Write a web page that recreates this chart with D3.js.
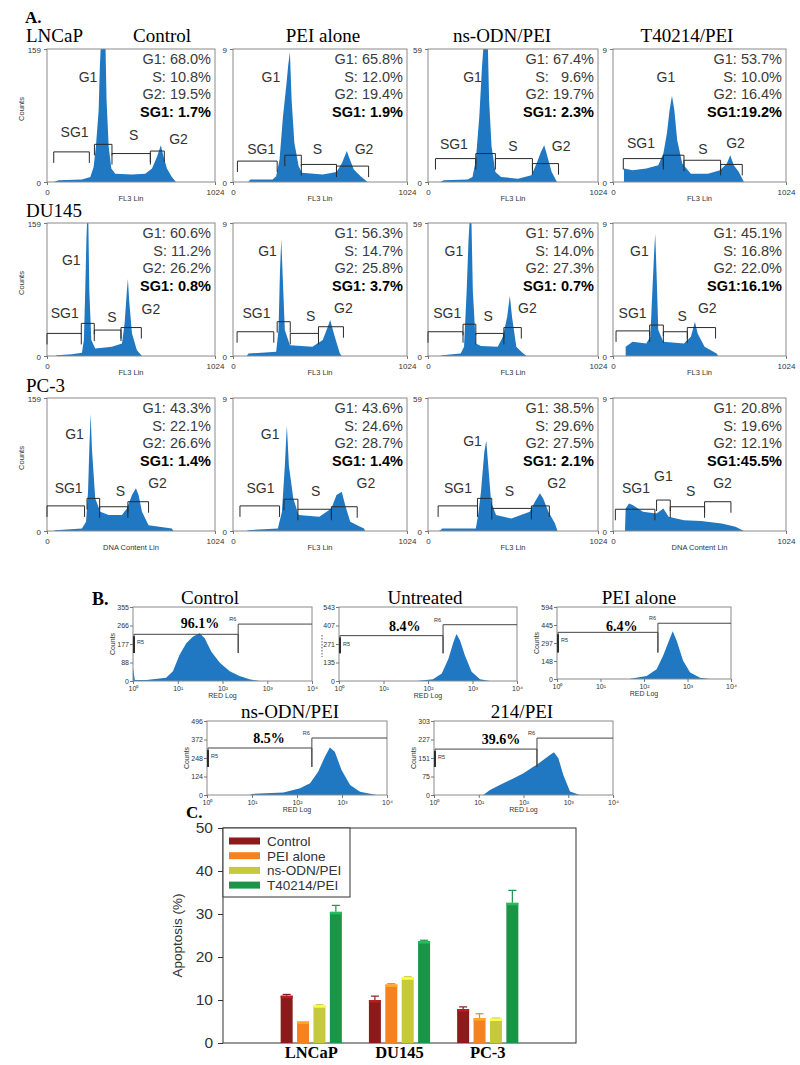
<!DOCTYPE html>
<html><head><meta charset="utf-8">
<script src="https://cdn.jsdelivr.net/npm/d3@7"></script>
<style>body{margin:0;background:#fff}</style>
</head><body>
<svg id="c" width="800" height="1065" xmlns="http://www.w3.org/2000/svg"></svg>
<script>
// ---------------- DATA ----------------
// Panel A
const cellLines = ["LNCaP", "DU145", "PC-3"];
const treatmentsA = ["Control", "PEI alone", "ns-ODN/PEI", "T40214/PEI"];
const yTopLabelsA = ["159", "9", "59", "9"];
const xTickLabelsA = ["0", "1024"];
const xAxisTitlesA = [
  ["FL3 Lin", "FL3 Lin", "FL3 Lin", "FL3 Lin"],
  ["FL3 Lin", "FL3 Lin", "FL3 Lin", "FL3 Lin"],
  ["DNA Content Lin", "FL3 Lin", "FL3 Lin", "DNA Content Lin"]
];
const statsA = [
  [["G1: 68.0%","S: 10.8%","G2: 19.5%","SG1: 1.7%"],["G1: 65.8%","S: 12.0%","G2: 19.4%","SG1: 1.9%"],["G1: 67.4%","S:   9.6%","G2: 19.7%","SG1: 2.3%"],["G1: 53.7%","S: 10.0%","G2: 16.4%","SG1:19.2%"]],
  [["G1: 60.6%","S: 11.2%","G2: 26.2%","SG1: 0.8%"],["G1: 56.3%","S: 14.7%","G2: 25.8%","SG1: 3.7%"],["G1: 57.6%","S: 14.0%","G2: 27.3%","SG1: 0.7%"],["G1: 45.1%","S: 16.8%","G2: 22.0%","SG1:16.1%"]],
  [["G1: 43.3%","S: 22.1%","G2: 26.6%","SG1: 1.4%"],["G1: 43.6%","S: 24.6%","G2: 28.7%","SG1: 1.4%"],["G1: 38.5%","S: 29.6%","G2: 27.5%","SG1: 2.1%"],["G1: 20.8%","S: 19.6%","G2: 12.1%","SG1:45.5%"]]
];
// histogram outlines: [channel, counts]
const histA = [
  [
    [[41,0],[71,2],[213,3],[264,6],[284,18],[298,42],[315,86],[322,137],[327,159],[357,159],[363,98],[376,42],[392,16],[416,10],[518,9],[599,10],[640,16],[670,30],[694,44],[711,30],[731,16],[761,6],[786,0]],
    [[91,0],[101,3],[233,3],[254,7],[274,27],[294,78],[315,118],[325,140],[335,155],[345,98],[361,47],[386,19],[406,11],[528,9],[609,12],[640,22],[670,37],[680,31],[711,15],[751,7],[792,0]],
    [[75,0],[95,2],[238,3],[268,6],[288,26],[309,78],[325,137],[333,159],[361,159],[368,98],[383,42],[406,12],[440,6],[542,4],[623,8],[654,22],[680,36],[700,44],[720,30],[745,12],[777,0]],
    [[65,0],[65,16],[116,14],[197,16],[268,20],[298,34],[319,58],[335,86],[349,103],[363,86],[380,50],[410,22],[461,10],[562,10],[633,14],[674,22],[694,32],[715,20],[745,12],[775,0]]
  ],
  [
    [[51,0],[61,1],[152,2],[213,4],[225,19],[233,78],[240,138],[244,159],[252,159],[258,78],[270,19],[294,9],[396,11],[457,15],[473,39],[487,78],[493,92],[501,66],[518,27],[548,7],[579,0]],
    [[81,0],[91,3],[254,5],[268,31],[276,98],[284,140],[292,98],[305,31],[335,13],[467,11],[528,19],[558,35],[572,43],[599,23],[629,3],[640,0]],
    [[75,0],[85,1],[197,3],[217,11],[233,78],[244,138],[250,159],[262,159],[270,78],[288,15],[319,12],[420,11],[451,23],[477,47],[493,72],[506,47],[532,11],[562,5],[593,0]],
    [[75,0],[75,11],[116,17],[197,15],[221,23],[233,78],[244,126],[250,146],[258,98],[268,31],[298,17],[420,15],[461,23],[485,41],[501,27],[542,11],[613,3],[623,0]]
  ],
  [
    [[41,0],[51,1],[213,3],[238,11],[250,47],[258,98],[266,140],[274,98],[294,39],[325,23],[376,19],[457,19],[487,27],[518,43],[542,51],[558,43],[579,23],[619,7],[761,3],[771,0]],
    [[81,0],[91,1],[264,3],[288,23],[305,78],[317,126],[329,78],[355,39],[386,19],[508,17],[579,27],[609,43],[640,47],[660,31],[690,11],[731,7],[771,3],[778,0]],
    [[65,0],[75,1],[85,3],[288,3],[302,19],[319,47],[339,94],[351,108],[363,78],[380,35],[410,19],[502,15],[613,23],[644,35],[674,45],[694,39],[725,23],[765,9],[780,0]],
    [[71,0],[75,27],[95,33],[116,31],[177,23],[258,21],[298,27],[329,17],[420,13],[521,12],[643,9],[725,5],[775,0]]
  ]
];
// gates: [startChannel, endChannel, levelCounts] for SG1, G1, S, G2
const gatesA = [
  [[[41,258,36],[289,396,45],[396,630,34],[630,715,37]],[[26,260,25],[305,402,32],[402,609,21],[609,798,19]],[[45,288,28],[288,406,34],[406,629,28],[629,786,22]],[[61,298,28],[298,420,32],[420,637,26],[637,765,21]]],
  [[[0,209,27],[209,288,39],[288,451,31],[451,575,34]],[[24,240,29],[260,337,41],[337,503,27],[503,650,35]],[[0,211,29],[211,288,38],[288,457,27],[457,562,34]],[[18,217,30],[217,298,37],[298,440,29],[440,607,34]]],
  [[[0,229,30],[244,321,39],[321,493,29],[493,619,35]],[[41,274,30],[300,382,38],[382,579,26],[579,731,29]],[[61,298,30],[298,384,39],[384,623,27],[623,731,30]],[[14,248,26],[258,339,37],[339,542,29],[542,698,35]]]
];
const phaseNames = ["G1", "SG1", "S", "G2"];
// label anchor [channel, counts] for G1, SG1, S, G2
const phaseLabelPosA = [
  [[[250,119],[168,54],[528,50],[802,46]],[[223,120],[166,33],[497,33],[771,33]],[[268,119],[156,40],[512,37],[802,37]],[[313,119],[166,41],[532,34],[725,41]]],
  [[[148,109],[108,45],[396,41],[633,50]],[[203,119],[138,45],[457,42],[650,51]],[[156,119],[116,45],[363,42],[599,51]],[[156,119],[116,45],[410,42],[558,51]]],
  [[[168,110],[132,45],[447,42],[674,51]],[[219,110],[162,45],[487,42],[782,51]],[[268,102],[181,45],[491,42],[775,51]],[[298,60],[136,45],[460,42],[648,51]]]
];

// Panel B
const titlesB = ["Control", "Untreated", "PEI alone", "ns-ODN/PEI", "214/PEI"];
const percentsB = ["96.1%", "8.4%", "6.4%", "8.5%", "39.6%"];
const yMaxB = [355, 543, 594, 496, 303];
const yTickLabelsB = [["0","88","177","266","355"],["0","135","271","407","543"],["0","148","297","445","594"],["0","124","248","372","496"],["0","75","151","227","303"]];
const xTicksB = [1, 10, 100, 1000, 10000];
// histograms: [RED value, counts]
const histB = [
  [[1,63],[1.1,5],[2,5],[5.5,16],[7.8,47],[11,126],[15.5,181],[22,213],[31,229],[40,205],[56,142],[87,87],[145,47],[240,24],[400,8],[676,0]],
  [[56,0],[129,12],[204,55],[288,164],[372,285],[437,345],[525,297],[676,188],[955,67],[1479,12],[2455,0]],
  [[48,3],[115,25],[195,81],[275,192],[363,304],[457,393],[562,318],[794,151],[1148,53],[1950,11],[3311,0]],
  [[9,0],[10,7],[50,16],[117,45],[195,78],[295,156],[417,257],[537,319],[692,290],[977,167],[1514,67],[2512,22],[5888,0]],
  [[12.6,0],[17.8,20],[29.5,41],[58.9,68],[100,89],[166,116],[195,123],[275,143],[389,164],[479,175],[603,150],[776,82],[1096,14],[1820,0]]
];
// gates: [split value, R5 level, R6 level, tick low]
const gatesB = [[224,224,273,134],[218,333,413,203],[209,385,460,218],[214,315,382,188],[200,188,233,115]];
// percent label anchor [RED value, counts]
const percentPosB = [[31.6,255],[30,369],[31,398],[24,348],[31.6,209]];

// Panel C
const groupsC = ["LNCaP", "DU145", "PC-3"];
const seriesC = ["Control", "PEI alone", "ns-ODN/PEI", "T40214/PEI"];
const valuesC = [[11.0, 10.0, 7.9], [5.0, 13.6, 5.8], [8.8, 15.3, 5.7], [30.5, 23.7, 32.6]];
const errorsC = [[0.3, 0.9, 0.5], [0.0, 0.2, 1.0], [0.1, 0.1, 0.1], [1.5, 0.2, 2.9]];
const yTicksC = [0, 10, 20, 30, 40, 50];

// ---------------- LAYOUT / STYLE ----------------
const serif = "'Liberation Serif','Times New Roman',serif";
const sans = "'Liberation Sans',Arial,Helvetica,sans-serif";
const blue = "#1f78c1";
const colorsC = ["#8b1a1a", "#f58220", "#c6c93c", "#1a9447"];
const svg = d3.select("#c");
svg.append("rect").attr("width", 800).attr("height", 1065).attr("fill", "#fff");

function txt(g, x, y, s, o = {}) {
  const t = g.append("text").attr("x", x).attr("y", y).text(s)
    .attr("font-family", o.ff || sans).attr("font-size", o.fs || 12)
    .attr("fill", o.fill || "#000").attr("text-anchor", o.anchor || "start");
  if (o.fw) t.attr("font-weight", o.fw);
  if (o.pre) t.style("white-space", "pre");
  return t;
}

// ---------------- PANEL A ----------------
const colX = [[47, 215], [233, 407], [428, 598], [613, 786]];
const rowY = [[49, 182], [223, 356], [398, 531]];
const titleXA = [162, 323, 502, 687];
const cellLabelY = [42, 217, 392];
txt(svg, 25, 23, "A.", {ff: serif, fs: 17, fw: "bold"});
treatmentsA.forEach((t, c) => txt(svg, titleXA[c], 42, t, {ff: serif, fs: 19, anchor: "middle"}));

cellLines.forEach((cl, r) => {
  txt(svg, 26, cellLabelY[r], cl, {ff: serif, fs: 19});
  treatmentsA.forEach((tr, c) => {
    const [x0, x1] = colX[c], [y0, y1] = rowY[r];
    const x = d3.scaleLinear().domain([0, 1024]).range([x0, x1]);
    const y = d3.scaleLinear().domain([0, 159]).range([y1, y0]);
    const g = svg.append("g");
    const id = `clipA${r}${c}`;
    svg.append("clipPath").attr("id", id).append("rect")
      .attr("x", x0).attr("y", y0).attr("width", x1 - x0).attr("height", y1 - y0);
    g.append("path").datum(histA[r][c]).attr("clip-path", `url(#${id})`)
      .attr("d", d3.area().x(d => x(d[0])).y0(y(0)).y1(d => y(d[1])))
      .attr("fill", blue);
    g.append("rect").attr("x", x0).attr("y", y0).attr("width", x1 - x0).attr("height", y1 - y0)
      .attr("fill", "none").attr("stroke", "#8a8a8a").attr("stroke-width", 1);
    // axes
    const ya = g.append("g").attr("transform", `translate(${x0},0)`)
      .call(d3.axisLeft(y).tickValues([0, 159]).tickSize(3).tickFormat((d, i) => i ? yTopLabelsA[c] : "0"));
    const xa = g.append("g").attr("transform", `translate(0,${y1})`)
      .call(d3.axisBottom(x).tickValues([0, 1024]).tickSize(3).tickFormat((d, i) => xTickLabelsA[i]));
    [ya, xa].forEach(a => {
      a.select(".domain").remove();
      a.selectAll("line").attr("stroke", "#777");
      a.selectAll("text").attr("font-family", sans).attr("font-size", 8).attr("fill", "#333");
    });
    ya.selectAll("text").attr("dy", "0.45em");
    xa.selectAll("text").attr("dy", "0.9em");
    txt(g, (x0 + x1) / 2, y1 + 19, xAxisTitlesA[r][c], {fs: 7.5, anchor: "middle", fill: "#333"});
    if (c === 0) {
      txt(g, 0, 0, "Counts", {fs: 7.5, anchor: "middle", fill: "#333"})
        .attr("transform", `translate(24,${y0 + 60}) rotate(-90)`);
    }
    // gates
    gatesA[r][c].forEach(([s, e, lv]) => {
      const yl = y(lv);
      g.append("path").attr("d", `M${x(s)},${yl + 11}V${yl}H${x(e)}V${yl + 11}`)
        .attr("fill", "none").attr("stroke", "#2a2a2a").attr("stroke-width", 1);
    });
    // phase labels
    phaseLabelPosA[r][c].forEach(([ch, ct], k) => {
      txt(g, x(ch), y(ct), phaseNames[k], {fs: 14, anchor: "middle", fill: "#333"});
    });
    // stats
    statsA[r][c].forEach((s, k) => {
      txt(g, x1 - 4, y0 + 15 + k * 17.5, s, {fs: 14.5, anchor: "end", fill: k === 3 ? "#000" : "#3a3a3a",
        fw: k === 3 ? "bold" : null, pre: true});
    });
  });
});

// ---------------- PANEL B ----------------
const boxesB = [[133, 312, 607, 681], [339, 517, 607, 681], [557, 731, 607, 679], [207, 387, 721, 795], [434, 613, 721, 795]];
const titleXB = [210, 425, 639, 290, 522];
const showCountsB = [true, false, true, true, true];
txt(svg, 92, 605, "B.", {ff: serif, fs: 18, fw: "bold"});
const supDigits = ["\u2070", "\u00B9", "\u00B2", "\u00B3", "\u2074"];

titlesB.forEach((tt, i) => {
  const [x0, x1, y0, y1] = boxesB[i];
  const x = d3.scaleLog().domain([1, 10000]).range([x0, x1]);
  const y = d3.scaleLinear().domain([0, yMaxB[i]]).range([y1, y0]);
  const g = svg.append("g");
  txt(g, titleXB[i], y0 - 3, tt, {ff: serif, fs: 19, anchor: "middle"});
  const id = `clipB${i}`;
  svg.append("clipPath").attr("id", id).append("rect")
    .attr("x", x0).attr("y", y0).attr("width", x1 - x0).attr("height", y1 - y0);
  g.append("path").datum(histB[i]).attr("clip-path", `url(#${id})`)
    .attr("d", d3.area().x(d => x(d[0])).y0(y(0)).y1(d => y(d[1])))
    .attr("fill", blue);
  g.append("rect").attr("x", x0).attr("y", y0).attr("width", x1 - x0).attr("height", y1 - y0)
    .attr("fill", "none").attr("stroke", "#8a8a8a").attr("stroke-width", 1);
  const yt = yTickLabelsB[i].map((_, k) => k * yMaxB[i] / 4);
  const ya = g.append("g").attr("transform", `translate(${x0},0)`)
    .call(d3.axisLeft(y).tickValues(yt).tickSize(3).tickFormat((d, k) => yTickLabelsB[i][k]));
  const xa = g.append("g").attr("transform", `translate(0,${y1})`)
    .call(d3.axisBottom(x).tickValues(xTicksB).tickSize(3).tickFormat((d, k) => "10" + supDigits[k]));
  [ya, xa].forEach(a => {
    a.select(".domain").remove();
    a.selectAll("line").attr("stroke", "#777");
    a.selectAll("text").attr("font-family", sans).attr("font-size", 7).attr("fill", "#333");
  });
  ya.selectAll("text").attr("x", -4);
  xa.selectAll("text").attr("dy", "0.6em");
  txt(g, (x0 + x1) / 2, y1 + 17, "RED Log", {fs: 7, anchor: "middle", fill: "#333"});
  if (showCountsB[i]) {
    txt(g, 0, 0, "Counts", {fs: 7, anchor: "middle", fill: "#333"})
      .attr("transform", `translate(${x0 - 18},${(y0 + y1) / 2}) rotate(-90)`);
  } else {
    g.append("line").attr("x1", x0 - 17).attr("x2", x0 - 17).attr("y1", y0 + 28).attr("y2", y0 + 50)
      .attr("stroke", "#555").attr("stroke-dasharray", "1.5,1.5");
  }
  // gates
  const [sp, r5, r6, lo] = gatesB[i];
  g.append("path").attr("d", `M${x(1) + 1},${y(lo)}V${y(r5)}H${x(sp)}V${y(lo)}`)
    .attr("fill", "none").attr("stroke", "#444").attr("stroke-width", 1);
  g.append("line").attr("x1", x(1) + 1).attr("x2", x(1) + 1).attr("y1", y(r5) + 2).attr("y2", y(lo))
    .attr("stroke", "#222").attr("stroke-width", 1.8);
  g.append("path").attr("d", `M${x(sp)},${y(lo)}V${y(r6)}H${x1}`)
    .attr("fill", "none").attr("stroke", "#444").attr("stroke-width", 1);
  txt(g, x(1) + 4, y(r5) + 10, "R5", {fs: 5.5, fill: "#333"});
  txt(g, x(sp) - 9, y(r6) - 3, "R6", {fs: 5.5, fill: "#333"});
  txt(g, x(percentPosB[i][0]), y(percentPosB[i][1]), percentsB[i], {ff: serif, fs: 14, fw: "bold", anchor: "middle"});
});

// ---------------- PANEL C ----------------
const cx0 = 223, cx1 = 576, cy0 = 828, cy1 = 1043;
txt(svg, 186, 818, "C.", {ff: serif, fs: 17, fw: "bold"});
const xC = d3.scaleBand().domain(groupsC).range([cx0, cx1]).paddingOuter(0.5).paddingInner(0);
const xSub = d3.scaleBand().domain(seriesC).range([-32.8, 32.8]).paddingInner(0.27).paddingOuter(0.135);
const yC = d3.scaleLinear().domain([0, 50]).range([cy1, cy0]);
const gc = svg.append("g");
gc.append("rect").attr("x", cx0).attr("y", cy0).attr("width", cx1 - cx0).attr("height", cy1 - cy0)
  .attr("fill", "none").attr("stroke", "#333").attr("stroke-width", 1);
const yaC = gc.append("g").attr("transform", `translate(${cx0},0)`)
  .call(d3.axisLeft(yC).tickValues(yTicksC).tickSize(5).tickPadding(5));
yaC.select(".domain").remove();
yaC.selectAll("line").attr("stroke", "#333");
yaC.selectAll("text").attr("font-family", sans).attr("font-size", 15.5).attr("fill", "#333");
txt(gc, 0, 0, "Apoptosis (%)", {fs: 13.5, anchor: "middle", fill: "#333"})
  .attr("transform", `translate(182,${(cy0 + cy1) / 2}) rotate(-90)`);
groupsC.forEach(gn => txt(gc, xC(gn) + xC.bandwidth() / 2, 1058, gn, {ff: serif, fs: 16.5, fw: "bold", anchor: "middle"}));

seriesC.forEach((sn, si) => {
  groupsC.forEach((gn, gi) => {
    const v = valuesC[si][gi], e = errorsC[si][gi];
    const bx = xC(gn) + xC.bandwidth() / 2 + xSub(sn);
    const bw = xSub.bandwidth();
    const col = colorsC[si];
    if (e > 0) {
      gc.append("line").attr("x1", bx + bw / 2).attr("x2", bx + bw / 2).attr("y1", yC(v)).attr("y2", yC(v + e))
        .attr("stroke", col).attr("stroke-width", 1.2);
      gc.append("line").attr("x1", bx + bw / 2 - 4).attr("x2", bx + bw / 2 + 4).attr("y1", yC(v + e)).attr("y2", yC(v + e))
        .attr("stroke", col).attr("stroke-width", 1.2);
    }
    gc.append("rect").attr("x", bx).attr("y", yC(v)).attr("width", bw).attr("height", yC(0) - yC(v)).attr("fill", col);
    gc.append("rect").attr("x", bx).attr("y", yC(v)).attr("width", bw).attr("height", 2.5)
      .attr("fill", d3.color(col).brighter(0.7));
  });
});
// legend
const lg = gc.append("g");
lg.append("rect").attr("x", cx0).attr("y", cy0).attr("width", 127).attr("height", 69)
  .attr("fill", "#fff").attr("stroke", "#333").attr("stroke-width", 1);
seriesC.forEach((sn, si) => {
  const ly = 841 + si * 14.7;
  lg.append("rect").attr("x", 229).attr("y", ly - 3.5).attr("width", 31).attr("height", 7).attr("fill", colorsC[si]);
  txt(lg, 267, ly + 5, sn, {fs: 13.5, fill: "#333"});
});
</script>
</body></html>
